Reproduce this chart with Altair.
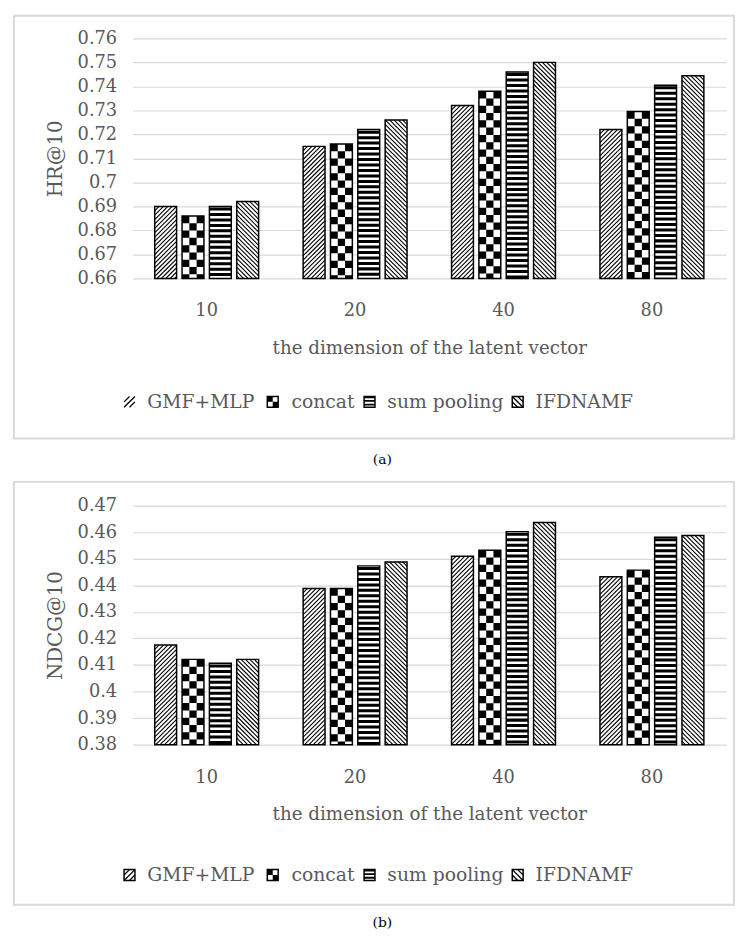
import math
import altair as alt
import pandas as pd

# ---------------- data ----------------
dims = ["10", "20", "40", "80"]
series = ["GMF+MLP", "concat", "sum pooling", "IFDNAMF"]

hr_gmf_mlp = [0.690, 0.715, 0.732, 0.722]
hr_concat = [0.686, 0.716, 0.738, 0.7295]
hr_sum_pooling = [0.690, 0.722, 0.746, 0.7405]
hr_ifdnamf = [0.692, 0.726, 0.750, 0.7444]

ndcg_gmf_mlp = [0.4175, 0.4388, 0.4509, 0.4432]
ndcg_concat = [0.4121, 0.4388, 0.4532, 0.4457]
ndcg_sum_pooling = [0.4106, 0.4473, 0.4602, 0.4581]
ndcg_ifdnamf = [0.4121, 0.4488, 0.4636, 0.4587]

hr_ticks = [0.66, 0.67, 0.68, 0.69, 0.70, 0.71, 0.72, 0.73, 0.74, 0.75, 0.76]
ndcg_ticks = [0.38, 0.39, 0.40, 0.41, 0.42, 0.43, 0.44, 0.45, 0.46, 0.47]

x_title = "the dimension of the latent vector"
hr_title = "HR@10"
ndcg_title = "NDCG@10"
captions = ["(a)", "(b)"]

# ---------------- style / layout ----------------
FONT = "DejaVu Serif"
GRAY = "#595959"
GRID = "#d9d9d9"
W = 601
P_IN, P_OUT, O_PAD = 0.3, 0.15, 0.2
x_step = W / (len(dims) - P_IN + 2 * P_OUT)
band = x_step * (1 - P_IN)
bw = band / (len(series) - O_PAD) * (1 - O_PAD)   # bar width in px


def f3(v):
    return f"{v:.3f}"


def hatch_path(step, forward=True):
    parts = []
    c = -2 + step
    while c < 2 - 1e-9:
        if forward:
            if c <= 0:
                pts = (-1, c + 1, c + 1, -1)
            else:
                pts = (c - 1, 1, 1, c - 1)
        else:
            if c <= 0:
                pts = (-1, -1 - c, 1 + c, 1)
            else:
                pts = (c - 1, -1, 1, 1 - c)
        parts.append(f"M{f3(pts[0])},{f3(pts[1])}L{f3(pts[2])},{f3(pts[3])}")
        c += step
    return "".join(parts)


def stripes_path(n, frac, off):
    parts = []
    p = 2.0 / n
    for k in range(n):
        y0 = -1 + p * k + off
        y1 = min(1.0, y0 + p * frac)
        parts.append(f"M-1,{f3(y0)}H1V{f3(y1)}H-1Z")
    return "".join(parts)


def checker_path(n, phase):
    parts = []
    c = 2.0 / n
    for i in range(n):
        for j in range(n):
            if (i + j) % 2 == phase:
                x0, y0 = -1 + i * c, -1 + j * c
                parts.append(f"M{f3(x0)},{f3(y0)}H{f3(x0 + c)}V{f3(y0 + c)}H{f3(x0)}Z")
    return "".join(parts)


TILE_FWD = hatch_path(0.4, True)
TILE_BWD = hatch_path(0.4, False)
TILE_STRIPE = stripes_path(4, 0.55, 0.1)
TILE_CHK = [checker_path(3, 0), checker_path(3, 1)]
LEG_FWD = hatch_path(1.0, True)
LEG_BWD = hatch_path(1.0, False)
LEG_STRIPE = stripes_path(3, 0.5, 0.0)
LEG_CHK = checker_path(2, 0)

one = pd.DataFrame({"_": [0]})


def panel(value_lists, ticks, ytitle, H, legend_y, caption, caption_y, gmf_border, spacer_to):
    ymin, ymax = ticks[0], ticks[-1]
    ppu = H / (ymax - ymin)
    side_u = bw / ppu
    rows, trows = [], []
    for s, vals in zip(series, value_lists):
        for d, v in zip(dims, vals):
            rows.append({"dim": d, "series": s, "value": v})
            n = math.ceil((v - ymin) / side_u)
            for k in range(n):
                trows.append({"dim": d, "series": s, "value": v - (k + 0.5) * side_u, "k": k % 2})
    df = pd.DataFrame(rows)
    tdf = pd.DataFrame(trows)

    xscale = alt.Scale(domain=dims, paddingInner=P_IN, paddingOuter=P_OUT)
    oscale = alt.Scale(domain=series, paddingInner=O_PAD, paddingOuter=0)
    yscale = alt.Scale(domain=[ymin, ymax], nice=False, zero=False)

    xaxis = alt.Axis(title=x_title, labelAngle=0, labelFont=FONT, labelFontSize=18, labelColor=GRAY,
                     labelPadding=33, labelBaseline="middle", ticks=False, tickSize=0, domain=False,
                     grid=False, titleFont=FONT, titleFontSize=18.5, titleColor=GRAY,
                     titleFontWeight="normal", titleX=W / 2, titleY=70, titleBaseline="middle",
                     titleAlign="center")
    yaxis = alt.Axis(values=ticks, format=".2~f", title=ytitle, grid=True, gridColor=GRID,
                     gridWidth=1.2, domain=False, ticks=False, tickSize=0, labelPadding=16,
                     labelFont=FONT, labelFontSize=18, labelColor=GRAY, titleFont=FONT,
                     titleFontSize=20, titleColor=GRAY, titleFontWeight="normal", titleX=-78,
                     titleY=H / 2, titleAngle=270, titleBaseline="middle", titleAlign="center")

    def enc(chart):
        return chart.encode(
            x=alt.X("dim:N", scale=xscale, axis=xaxis, sort=dims),
            xOffset=alt.XOffset("series:N", scale=oscale, sort=series),
            y=alt.Y("value:Q", scale=yscale, axis=yaxis))

    layers = []
    # chart border
    layers.append(alt.Chart(one).mark_rect(fillOpacity=0, stroke=GRID, strokeWidth=2).encode(
        x=alt.value(-120), x2=alt.value(609), y=alt.value(-23 if spacer_to else -24),
        y2=alt.value(405 if spacer_to else 404)))
    if spacer_to:
        layers.append(alt.Chart(one).mark_rect(opacity=0).encode(
            x=alt.value(0), x2=alt.value(1), y=alt.value(400), y2=alt.value(spacer_to)))

    # white bar bodies
    layers.append(enc(alt.Chart(df).mark_bar(fill="white", strokeWidth=0)).encode(y2=alt.datum(ymin)))

    def tiles(sel, shape, filled):
        base = alt.Chart(tdf).transform_filter(sel)
        if filled:
            m = base.mark_point(shape=shape, size=bw * bw, filled=True, fill="black", strokeWidth=0,
                                opacity=1, clip=True)
        else:
            m = base.mark_point(shape=shape, size=bw * bw, filled=False, stroke="black",
                                strokeWidth=1.1, opacity=1, clip=True)
        return enc(m)

    layers.append(tiles(alt.datum.series == series[0], TILE_FWD, False))
    layers.append(tiles((alt.datum.series == series[1]) & (alt.datum.k == 0), TILE_CHK[0], True))
    layers.append(tiles((alt.datum.series == series[1]) & (alt.datum.k == 1), TILE_CHK[1], True))
    layers.append(tiles(alt.datum.series == series[2], TILE_STRIPE, True))
    layers.append(tiles(alt.datum.series == series[3], TILE_BWD, False))

    # bar outlines
    layers.append(enc(alt.Chart(df).mark_bar(fillOpacity=0, stroke="black", strokeWidth=1.5)).encode(
        y2=alt.datum(ymin)))

    # custom legend
    sw_x = [-3, 142, 240, 390]
    tx_x = [15, 161, 258, 408]
    leg_shapes = [(LEG_FWD, False), (LEG_CHK, True), (LEG_STRIPE, True), (LEG_BWD, False)]
    half = 5.5
    for i, s in enumerate(series):
        shape, filled = leg_shapes[i]
        if filled:
            mk = alt.Chart(one).mark_point(shape=shape, size=(2 * half) ** 2, filled=True,
                                           fill="black", strokeWidth=0, opacity=1)
        else:
            mk = alt.Chart(one).mark_point(shape=shape, size=(2 * half) ** 2, filled=False,
                                           stroke="black", strokeWidth=1.3, opacity=1)
        layers.append(mk.encode(x=alt.value(sw_x[i]), y=alt.value(legend_y)))
        if i != 0 or gmf_border:
            layers.append(alt.Chart(one).mark_rect(fillOpacity=0, stroke="black", strokeWidth=1.5).encode(
                x=alt.value(sw_x[i] - half), x2=alt.value(sw_x[i] + half),
                y=alt.value(legend_y - half), y2=alt.value(legend_y + half)))
        layers.append(alt.Chart(one).mark_text(text=s, align="left", baseline="middle", font=FONT,
                                               fontSize=19, color=GRAY).encode(
            x=alt.value(tx_x[i]), y=alt.value(legend_y)))

    # caption
    layers.append(alt.Chart(one).mark_text(text=caption, align="center", baseline="middle", font=FONT,
                                           fontSize=14, color="black").encode(
        x=alt.value(253), y=alt.value(caption_y)))

    return alt.layer(*layers).properties(width=W, height=H)


top = panel([hr_gmf_mlp, hr_concat, hr_sum_pooling, hr_ifdnamf], hr_ticks, hr_title, 243,
            368, captions[0], 427, False, 446)
bottom = panel([ndcg_gmf_mlp, ndcg_concat, ndcg_sum_pooling, ndcg_ifdnamf], ndcg_ticks, ndcg_title, 242,
               374, captions[1], 423, True, None)

chart = alt.vconcat(top, bottom, spacing=0).properties(
    padding={"left": 4, "top": 0, "right": 0, "bottom": 0}
).configure_view(stroke="transparent")

chart.save("out.html", embed_options={"renderer": "svg", "actions": False})
